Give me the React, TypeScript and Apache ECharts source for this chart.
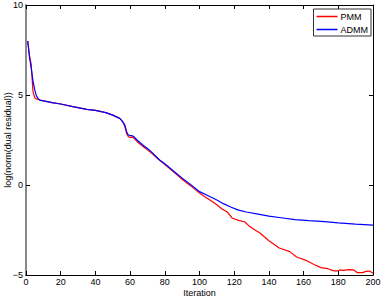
import React, { useEffect, useRef } from "react";
import * as echarts from "echarts";

const pmmIter = [1, 2, 3, 4, 5, 6, 8, 15, 20, 27, 35, 40, 46, 50, 54, 55, 56, 57, 58, 59, 60, 61, 62, 64, 66, 68, 70, 73, 76, 80, 85, 90, 95, 100, 103, 106, 110, 113, 116, 119, 123, 126, 129, 132, 135, 140, 146, 152, 156, 161, 166, 170, 174, 177, 179, 181, 183, 186, 189, 191, 194, 196, 198, 200];
const pmmValues = [8.0, 7.2, 6.7, 5.2, 4.85, 4.78, 4.72, 4.58, 4.5, 4.35, 4.2, 4.15, 4.02, 3.88, 3.7, 3.6, 3.46, 3.25, 2.85, 2.68, 2.64, 2.66, 2.62, 2.42, 2.25, 2.1, 1.95, 1.72, 1.46, 1.13, 0.73, 0.32, -0.05, -0.45, -0.65, -0.83, -1.1, -1.33, -1.5, -1.85, -1.98, -2.04, -2.31, -2.5, -2.68, -3.1, -3.5, -3.7, -4.0, -4.17, -4.42, -4.59, -4.65, -4.76, -4.78, -4.72, -4.74, -4.7, -4.72, -4.87, -4.87, -4.8, -4.78, -4.9];

const admmIter = [1, 2, 3, 4, 5, 6, 7, 8, 15, 20, 27, 35, 40, 46, 50, 54, 55, 56, 57, 58, 59, 60, 61, 62, 64, 66, 68, 70, 72, 77, 80, 85, 90, 95, 100, 105, 110, 114, 118, 122, 127, 133, 140, 147, 155, 163, 172, 180, 190, 200];
const admmValues = [8.0, 7.1, 6.5, 5.8, 5.3, 4.95, 4.8, 4.72, 4.58, 4.5, 4.35, 4.2, 4.15, 4.02, 3.88, 3.7, 3.6, 3.48, 3.33, 2.96, 2.78, 2.74, 2.74, 2.7, 2.5, 2.33, 2.17, 2.03, 1.87, 1.39, 1.18, 0.78, 0.38, 0.02, -0.37, -0.6, -0.83, -1.05, -1.22, -1.38, -1.5, -1.6, -1.73, -1.82, -1.92, -1.98, -2.04, -2.1, -2.17, -2.23];

const seriesNames = ["PMM", "ADMM"];
const xTicks = { min: 0, max: 200, interval: 20 };
const yTicks = { min: -5, max: 10, interval: 5 };
const xAxisName = "Iteration";
const yAxisName = "log(norm(dual residual))";

const FONT = "Liberation Sans";

export default function App() {
  const ref = useRef<HTMLDivElement>(null);
  useEffect(() => {
    if (!ref.current) return;
    const chart = echarts.init(ref.current, null, { renderer: "svg" });
    const fmt = (v: number) => String(v).replace("-", "\u2212");
    const hiddenAxisCommon = {
      axisLabel: { show: false },
      splitLine: { show: false },
      axisTick: { inside: true, length: 4, lineStyle: { color: "#000" } },
      axisLine: { onZero: false, lineStyle: { color: "#000", width: 1 } },
    };
    chart.setOption({
      animation: false,
      backgroundColor: "#fff",
      grid: { left: 26, right: 9, top: 5, bottom: 25, containLabel: false, outerBoundsMode: "none" },
      legend: {
        data: seriesNames,
        orient: "vertical",
        top: 9,
        right: 11,
        icon: "rect",
        backgroundColor: "#fff",
        borderColor: "#333",
        borderWidth: 1,
        borderRadius: 0,
        padding: [3, 3, 2, 3],
        itemWidth: 21,
        itemHeight: 1.5,
        itemGap: 4,
        textStyle: { fontFamily: FONT, fontSize: 9, color: "#000", padding: [0, 0, 0, -2] },
      },
      xAxis: [
        {
          type: "value",
          min: xTicks.min,
          max: xTicks.max,
          interval: xTicks.interval,
          name: xAxisName,
          nameLocation: "middle",
          nameGap: 13,
          nameMoveOverlap: false,
          nameTextStyle: { fontFamily: FONT, fontSize: 9, color: "#000" },
          axisLabel: { fontFamily: FONT, fontSize: 9, color: "#000", margin: 2 },
          splitLine: { show: false },
          axisTick: { inside: true, length: 4, lineStyle: { color: "#000" } },
          axisLine: { onZero: false, lineStyle: { color: "#000", width: 1 } },
        },
        {
          type: "value",
          position: "top",
          min: xTicks.min,
          max: xTicks.max,
          interval: xTicks.interval,
          ...hiddenAxisCommon,
        },
      ],
      yAxis: [
        {
          type: "value",
          min: yTicks.min,
          max: yTicks.max,
          interval: yTicks.interval,
          name: yAxisName,
          nameLocation: "middle",
          nameGap: 14,
          nameMoveOverlap: false,
          nameTextStyle: { fontFamily: FONT, fontSize: 9, color: "#000" },
          axisLabel: { fontFamily: FONT, fontSize: 9, color: "#000", margin: 3, formatter: fmt },
          splitLine: { show: false },
          axisTick: { inside: true, length: 4, lineStyle: { color: "#000" } },
          axisLine: { onZero: false, lineStyle: { color: "#888", width: 2 } },
        },
        {
          type: "value",
          position: "right",
          min: yTicks.min,
          max: yTicks.max,
          interval: yTicks.interval,
          ...hiddenAxisCommon,
        },
      ],
      series: [
        {
          name: seriesNames[0],
          type: "line",
          symbol: "none",
          data: pmmIter.map((x, i) => [x, pmmValues[i]]),
          lineStyle: { color: "#ff0000", width: 1.2 },
          itemStyle: { color: "#ff0000" },
          z: 3,
        },
        {
          name: seriesNames[1],
          type: "line",
          symbol: "none",
          data: admmIter.map((x, i) => [x, admmValues[i]]),
          lineStyle: { color: "#0000ff", width: 1.2 },
          itemStyle: { color: "#0000ff" },
          z: 4,
        },
      ],
    });
    return () => chart.dispose();
  }, []);
  return <div ref={ref} style={{ width: 382, height: 300, position: "absolute", left: 0, top: 0 }} />;
}
